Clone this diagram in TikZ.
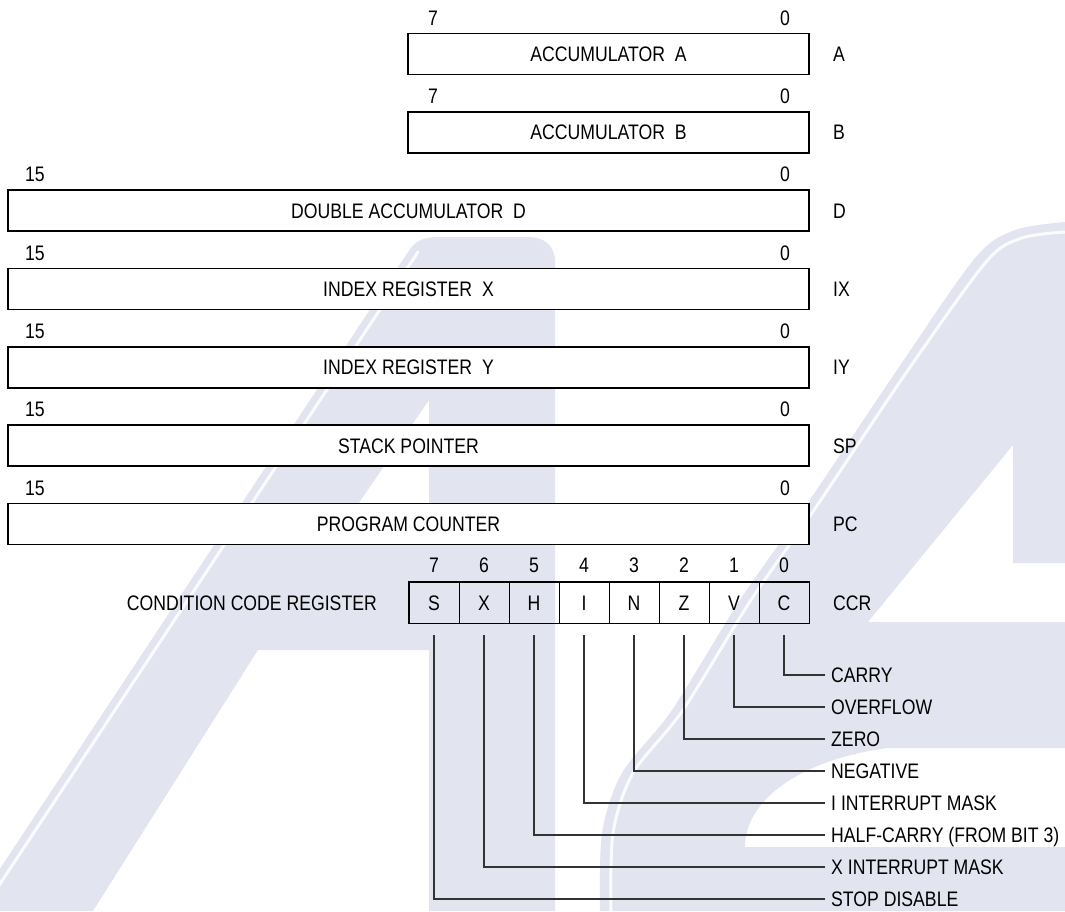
\documentclass[tikz,border=0pt]{standalone}
\usepackage{fontspec}
\setmainfont{Liberation Sans}[FakeStretch=0.84]
\definecolor{wmark}{RGB}{226,229,239}
\begin{document}
\begin{tikzpicture}[x=1pt,y=-1pt,
  font=\fontsize{21}{25}\selectfont,
  reg/.style={draw, line width=1.8pt, fill=white, minimum height=41pt, inner sep=0pt, text height=15pt, text depth=0pt},
  cell/.style={draw, line width=0.9pt, minimum width=50pt, minimum height=41pt, inner sep=0pt, text height=15pt, text depth=0pt},
  lbl/.style={inner sep=0pt, anchor=west, text height=15pt, text depth=0pt},
  num/.style={inner sep=0pt, text height=15pt, text depth=0pt},
  conn/.style={line width=1.1pt, draw=black!80},
  wm/.style={fill=wmark},
  gloss/.style={draw=white, line width=3pt, opacity=0.85, line cap=round}]
\useasboundingbox (0,0) rectangle (1065,911);
% ---- background watermark ----
\begin{scope}
\clip (0,0) rectangle (1065,911);
\fill[wm, even odd rule] (-28,911) -- (408,252) .. controls (414,242) and (422,237) .. (438,237)
  -- (528,237) .. controls (545,237) and (555,246) .. (555,262) -- (555,911) -- (429,911)
  -- (429,650) -- (258,650) -- (93,911) -- cycle
  (429,400) -- (333,541) -- (429,541) -- cycle;
\draw[gloss] (418,252) -- (-18,911);
\fill[wm, even odd rule] plot[smooth] coordinates {(600,911) (602,833) (622,773) (672,710) (740,600) (805,507) (895,373) (975,258) (1015,230) (1065,222)}
  -- (1065,563) -- (1013,563) -- (1013,445) -- (868,622) -- (1065,622) -- (1065,748) -- (887,748)
  .. controls (800,760) and (745,800) .. (745,847) -- (1065,847) -- (1065,911) -- cycle;
\draw[gloss] plot[smooth] coordinates {(611,911) (613,833) (633,773) (683,710) (751,600) (816,507) (906,373) (986,262) (1022,238) (1065,232)};
\end{scope}
% ---- registers ----
\node[reg, minimum width=401pt] (A) at (608.5,54) {ACCUMULATOR\ \ A};
\node[reg, minimum width=401pt] (B) at (608.5,132.3) {ACCUMULATOR\ \ B};
\node[reg, minimum width=801pt] (D) at (408.5,210.7) {DOUBLE ACCUMULATOR\ \ D};
\node[reg, minimum width=801pt] (IX) at (408.5,289) {INDEX REGISTER\ \ X};
\node[reg, minimum width=801pt] (IY) at (408.5,367.3) {INDEX REGISTER\ \ Y};
\node[reg, minimum width=801pt] (SP) at (408.5,445.7) {STACK POINTER};
\node[reg, minimum width=801pt] (PC) at (408.5,524) {PROGRAM COUNTER};
% bit numbers above registers
\node[num] (A7) at (433,17.5) {7};
\node[num] (A0) at (785,17.5) {0};
\node[num] (B7) at (433,95.8) {7};
\node[num] (B0) at (785,95.8) {0};
\foreach \r/\yy in {D/174.2,IX/252.5,IY/330.8,SP/409.2,PC/487.5} {
  \node[num] (\r15) at (35,\yy) {15};
  \node[num] (\r0) at (785,\yy) {0};
}
% register names at right
\foreach \r/\t/\yy in {A/A/54,B/B/132.3,D/D/210.7,IX/IX/289,IY/IY/367.3,SP/SP/445.7,PC/PC/524} {
  \node[lbl] (\r name) at (833,\yy) {\t};
}
% ---- condition code register ----
\foreach \n/\b [count=\i from 0] in {S/7,X/6,H/5,I/4,N/3,Z/2,V/1,C/0} {
  \node[cell] (c\b) at (434+50*\i,602.5) {\n};
  \node[num] (n\b) at (434+50*\i,565) {\b};
}
\draw[line width=1.8pt] (c7.north west) rectangle (c0.south east);
\node[lbl, anchor=east] (ccrname) at (377,602.5) {CONDITION CODE REGISTER};
\node[lbl] (ccrlab) at (833,602.5) {CCR};
% ---- bit descriptions ----
\foreach \b/\t [count=\i from 0] in {0/CARRY,1/OVERFLOW,2/ZERO,3/NEGATIVE,4/I INTERRUPT MASK,5/HALF-CARRY (FROM BIT 3),6/X INTERRUPT MASK,7/STOP DISABLE} {
  \node[lbl] (L\b) at (831,675+32*\i) {\t};
  \draw[conn] ([yshift=-12pt]c\b.south) |- ([xshift=-6pt]L\b.west);
}
\end{tikzpicture}
\end{document}
